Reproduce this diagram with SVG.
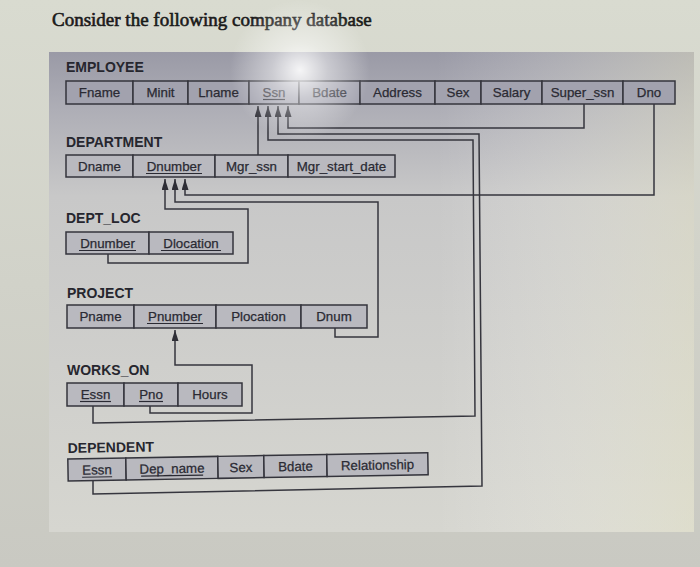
<svg xmlns="http://www.w3.org/2000/svg" width="700" height="567" viewBox="0 0 700 567">
<defs>
<linearGradient id="bg" x1="0" y1="0" x2="0" y2="1">
<stop offset="0" stop-color="#d9dbd0"/>
<stop offset="1" stop-color="#c9c9c2"/>
</linearGradient>
<linearGradient id="panel" x1="0" y1="0" x2="0" y2="1">
<stop offset="0" stop-color="#9a9aa6"/>
<stop offset="0.12" stop-color="#aeaeb6"/>
<stop offset="0.3" stop-color="#c8c8c8"/>
<stop offset="1" stop-color="#d6d6d0"/>
</linearGradient>
<linearGradient id="panelH" x1="0" y1="0" x2="1" y2="0">
<stop offset="0" stop-color="#ffffff" stop-opacity="0"/>
<stop offset="0.6" stop-color="#ffffff" stop-opacity="0"/>
<stop offset="1" stop-color="#e8e6c8" stop-opacity="0.45"/>
</linearGradient>
<radialGradient id="glare" cx="300" cy="70" r="70" gradientUnits="userSpaceOnUse">
<stop offset="0" stop-color="#ffffff" stop-opacity="0.9"/>
<stop offset="0.4" stop-color="#ffffff" stop-opacity="0.45"/>
<stop offset="1" stop-color="#ffffff" stop-opacity="0"/>
</radialGradient>
<marker id="ah" viewBox="0 0 11 7" refX="11" refY="3.5" markerWidth="11" markerHeight="7" markerUnits="userSpaceOnUse" orient="auto">
<path d="M0,0 L11,3.5 L0,7 Z" fill="#2e2e36"/>
</marker>
<style>
.cell{fill:#b9b9bf;stroke:#34343c;stroke-width:1.5}
.emp{fill:#a2a2ae}
.t{font-family:"Liberation Sans",Arial,sans-serif;font-size:13.3px;fill:#2a2a33;stroke:#2a2a33;stroke-width:0.25;text-anchor:middle}
.h{font-family:"Liberation Sans",Arial,sans-serif;font-size:14px;font-weight:bold;fill:#26262e}
.u{stroke:#2a2a33;stroke-width:1.2}
.c{fill:none;stroke:#36363e;stroke-width:1.5}
.title{font-family:"Liberation Serif","Times New Roman",serif;font-size:19px;fill:#1a1a1a;stroke:#1a1a1a;stroke-width:0.6}
</style>
</defs>
<rect x="0" y="0" width="700" height="567" fill="url(#bg)"/>
<rect x="49" y="52" width="645" height="480" fill="url(#panel)"/>
<rect x="49" y="52" width="645" height="480" fill="url(#panelH)"/>
<text class="title" x="52" y="26">Consider the following company database</text>

<g id="employee">
<text class="h" x="66" y="72">EMPLOYEE</text>
<rect class="cell emp" x="66" y="81" width="67" height="23"/>
<rect class="cell emp" x="133" y="81" width="55" height="23"/>
<rect class="cell emp" x="188" y="81" width="61" height="23"/>
<rect class="cell emp" x="249" y="81" width="50" height="23"/>
<rect class="cell emp" x="299" y="81" width="61" height="23"/>
<rect class="cell emp" x="360" y="81" width="75" height="23"/>
<rect class="cell emp" x="435" y="81" width="46" height="23"/>
<rect class="cell emp" x="481" y="81" width="61" height="23"/>
<rect class="cell emp" x="542" y="81" width="81" height="23"/>
<rect class="cell emp" x="623" y="81" width="52" height="23"/>
<text class="t" x="99.5" y="97">Fname</text>
<text class="t" x="160.5" y="97">Minit</text>
<text class="t" x="218.5" y="97">Lname</text>
<text class="t" x="274" y="97">Ssn</text>
<line class="u" x1="263" y1="99.5" x2="285" y2="99.5"/>
<text class="t" x="329.5" y="97">Bdate</text>
<text class="t" x="397.5" y="97">Address</text>
<text class="t" x="458" y="97">Sex</text>
<text class="t" x="511.5" y="97">Salary</text>
<text class="t" x="582.5" y="97">Super_ssn</text>
<text class="t" x="649" y="97">Dno</text>
</g>

<g id="department">
<text class="h" x="66" y="147">DEPARTMENT</text>
<rect class="cell" x="66" y="155" width="67" height="22"/>
<rect class="cell" x="133" y="155" width="82" height="22"/>
<rect class="cell" x="215" y="155" width="73" height="22"/>
<rect class="cell" x="288" y="155" width="107" height="22"/>
<text class="t" x="99.5" y="171">Dname</text>
<text class="t" x="174" y="171">Dnumber</text>
<line class="u" x1="146" y1="173.5" x2="202" y2="173.5"/>
<text class="t" x="251.5" y="171">Mgr_ssn</text>
<text class="t" x="341.5" y="171">Mgr_start_date</text>
</g>

<g id="dept_loc">
<text class="h" x="66" y="223">DEPT_LOC</text>
<rect class="cell" x="66" y="232" width="83" height="22"/>
<rect class="cell" x="149" y="232" width="84" height="22"/>
<text class="t" x="107.5" y="248">Dnumber</text>
<line class="u" x1="79" y1="250.5" x2="136" y2="250.5"/>
<text class="t" x="191" y="248">Dlocation</text>
<line class="u" x1="161" y1="250.5" x2="221" y2="250.5"/>
</g>

<g id="project">
<text class="h" x="67" y="298">PROJECT</text>
<rect class="cell" x="67" y="305" width="67" height="23"/>
<rect class="cell" x="134" y="305" width="82" height="23"/>
<rect class="cell" x="216" y="305" width="85" height="23"/>
<rect class="cell" x="301" y="305" width="66" height="23"/>
<text class="t" x="100.5" y="321">Pname</text>
<text class="t" x="175" y="321">Pnumber</text>
<line class="u" x1="147" y1="323.5" x2="203" y2="323.5"/>
<text class="t" x="258.5" y="321">Plocation</text>
<text class="t" x="334" y="321">Dnum</text>
</g>

<g id="works_on">
<text class="h" x="67" y="375">WORKS_ON</text>
<rect class="cell" x="67" y="383" width="57" height="23"/>
<rect class="cell" x="124" y="383" width="54" height="23"/>
<rect class="cell" x="178" y="383" width="64" height="23"/>
<text class="t" x="95.5" y="399">Essn</text>
<line class="u" x1="80" y1="401.5" x2="111" y2="401.5"/>
<text class="t" x="151" y="399">Pno</text>
<line class="u" x1="139" y1="401.5" x2="163" y2="401.5"/>
<text class="t" x="210" y="399">Hours</text>
</g>

<g id="dependent" transform="rotate(-1 68 470)">
<text class="h" x="68" y="453">DEPENDENT</text>
<rect class="cell" x="68" y="459" width="58" height="22"/>
<rect class="cell" x="126" y="459" width="92" height="22"/>
<rect class="cell" x="218" y="459" width="46" height="22"/>
<rect class="cell" x="264" y="459" width="63" height="22"/>
<rect class="cell" x="327" y="459" width="101" height="22"/>
<text class="t" x="97" y="475">Essn</text>
<line class="u" x1="82" y1="477.5" x2="112" y2="477.5"/>
<text class="t" x="172" y="475">Dep_name</text>
<line class="u" x1="141" y1="477.5" x2="203" y2="477.5"/>
<text class="t" x="241" y="475">Sex</text>
<text class="t" x="295.5" y="475">Bdate</text>
<text class="t" x="377.5" y="475">Relationship</text>
</g>

<g id="connectors">
<polyline class="c" points="258,155 258,106" marker-end="url(#ah)"/>
<polyline class="c" points="584,104 584,128 288,128 288,106" marker-end="url(#ah)"/>
<polyline class="c" points="93,481 93,494 482,486 479,134 278,134 278,106" marker-end="url(#ah)"/>
<polyline class="c" points="93,406 93,423 475,416 473,140 268,140 268,106" marker-end="url(#ah)"/>
<polyline class="c" points="654,104 654,195 185,195 185,179" marker-end="url(#ah)"/>
<polyline class="c" points="335,328 335,337 378,337 378,202 175,202 175,179" marker-end="url(#ah)"/>
<polyline class="c" points="108,254 108,263 248,263 248,209 165,209 165,179" marker-end="url(#ah)"/>
<polyline class="c" points="150,406 150,413 252,413 252,365 175,365 175,330" marker-end="url(#ah)"/>
</g>
<rect x="0" y="0" width="700" height="567" fill="url(#glare)"/>
</svg>
